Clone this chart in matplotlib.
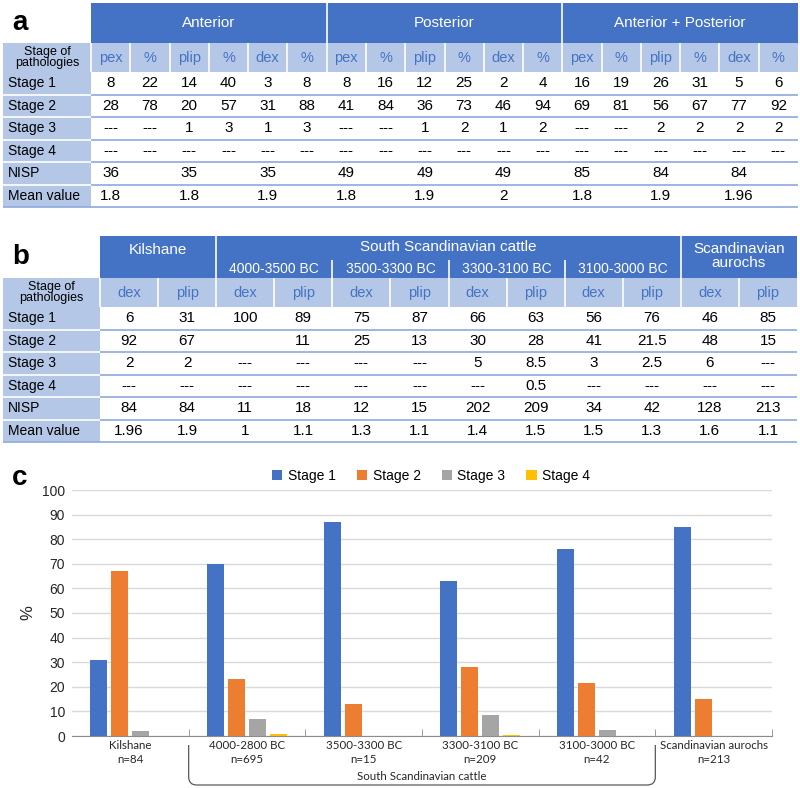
import matplotlib.pyplot as plt
from matplotlib.patches import Rectangle, PathPatch
from matplotlib.path import Path
from matplotlib.transforms import blended_transform_factory

plt.rcParams["font.family"] = ["Liberation Sans", "DejaVu Sans"]

# =========================
# DATA
# =========================

row_labels = ["Stage 1", "Stage 2", "Stage 3", "Stage 4", "NISP", "Mean value"]

# table a
a_groups = ["Anterior", "Posterior", "Anterior + Posterior"]
a_subcols = ["pex", "%", "plip", "%", "dex", "%"]
a_stage1 = ["8", "22", "14", "40", "3", "8", "8", "16", "12", "25", "2", "4", "16", "19", "26", "31", "5", "6"]
a_stage2 = ["28", "78", "20", "57", "31", "88", "41", "84", "36", "73", "46", "94", "69", "81", "56", "67", "77", "92"]
a_stage3 = ["---", "---", "1", "3", "1", "3", "---", "---", "1", "2", "1", "2", "---", "---", "2", "2", "2", "2"]
a_stage4 = ["---"] * 18
a_nisp = ["36", "", "35", "", "35", "", "49", "", "49", "", "49", "", "85", "", "84", "", "84", ""]
a_mean = ["1.8", "", "1.8", "", "1.9", "", "1.8", "", "1.9", "", "2", "", "1.8", "", "1.9", "", "1.96", ""]

# table b
b_groups = ["Kilshane", "South Scandinavian cattle", "Scandinavian\naurochs"]
b_periods = ["4000-3500 BC", "3500-3300 BC", "3300-3100 BC", "3100-3000 BC"]
b_subcols = ["dex", "plip"] * 6
b_stage1 = ["6", "31", "100", "89", "75", "87", "66", "63", "56", "76", "46", "85"]
b_stage2 = ["92", "67", "", "11", "25", "13", "30", "28", "41", "21.5", "48", "15"]
b_stage3 = ["2", "2", "---", "---", "---", "---", "5", "8.5", "3", "2.5", "6", "---"]
b_stage4 = ["---", "---", "---", "---", "---", "---", "---", "0.5", "---", "---", "---", "---"]
b_nisp = ["84", "84", "11", "18", "12", "15", "202", "209", "34", "42", "128", "213"]
b_mean = ["1.96", "1.9", "1", "1.1", "1.3", "1.1", "1.4", "1.5", "1.5", "1.3", "1.6", "1.1"]

# chart c
c_categories = ["Kilshane\nn=84", "4000-2800 BC\nn=695", "3500-3300 BC\nn=15",
                "3300-3100 BC\nn=209", "3100-3000 BC\nn=42", "Scandinavian aurochs\nn=213"]
c_stage1 = [31, 70, 87, 63, 76, 85]
c_stage2 = [67, 23, 13, 28, 21.5, 15]
c_stage3 = [2, 7, 0, 8.5, 2.5, 0]
c_stage4 = [0, 1, 0, 0.5, 0, 0]
c_series = ["Stage 1", "Stage 2", "Stage 3", "Stage 4"]
c_colors = ["#4472C4", "#ED7D31", "#A5A5A5", "#FFC000"]

DARK = "#4472C4"
LIGHT = "#B4C7E7"
LINE = "#8EA9DB"
SUBTXT = "#4472C4"

FS_HEAD = 11
FS_PERIOD = 10
FS_SUB = 10.5
FS_CELL = 11
FS_ROW = 10
FS_CORNER = 9

# =========================
# FIGURE / CANVAS
# =========================

W, H = 800, 788
fig = plt.figure(figsize=(8, 7.88), dpi=100)
canvas = fig.add_axes([0, 0, 1, 1])
canvas.set_xlim(0, W)
canvas.set_ylim(H, 0)
canvas.axis("off")


def rect(x0, y0, x1, y1, color):
    canvas.add_patch(Rectangle((x0, y0), x1 - x0, y1 - y0, facecolor=color,
                               edgecolor="none", zorder=1))


def vline(x, y0, y1, color="white", lw=1.2):
    canvas.plot([x, x], [y0, y1], color=color, lw=lw, zorder=2, solid_capstyle="butt")


def hline(y, x0, x1, color=LINE, lw=1.2):
    canvas.plot([x0, x1], [y, y], color=color, lw=lw, zorder=2, solid_capstyle="butt")


def body_rows(rows, x_left, x_data, col_w, y_top, row_h, x_end):
    for r, (label, values) in enumerate(zip(row_labels, rows)):
        yc = y_top + (r + 0.5) * row_h
        canvas.text(x_left + 5, yc, label, fontsize=FS_ROW, ha="left", va="center")
        for c, v in enumerate(values):
            canvas.text(x_data + (c + 0.5) * col_w, yc, v, fontsize=FS_CELL,
                        ha="center", va="center")
        yb = y_top + (r + 1) * row_h
        hline(yb, x_data, x_end)
        hline(yb, x_left, x_data, color="white" if r < len(rows) - 1 else LINE)


# =========================
# TABLE a
# =========================

ax0, axl, axr = 3, 91, 798
a_top, a_head, a_sub = 3, 43, 72
a_rowh = 22.5
a_colw = (axr - axl) / 18

rect(axl, a_top, axr, a_head, DARK)
rect(ax0, a_head, axr, a_sub, LIGHT)
rect(ax0, a_sub, axl, a_sub + 6 * a_rowh, LIGHT)

for g, name in enumerate(a_groups):
    gx0 = axl + g * 6 * a_colw
    canvas.text(gx0 + 3 * a_colw, (a_top + a_head) / 2, name, color="white",
                fontsize=FS_HEAD, ha="center", va="center")
    if g > 0:
        vline(gx0, a_top, a_head)
for c in range(18):
    canvas.text(axl + (c + 0.5) * a_colw, (a_head + a_sub) / 2, a_subcols[c % 6],
                color=SUBTXT, fontsize=FS_SUB, ha="center", va="center")
    vline(axl + c * a_colw, a_head, a_sub)
canvas.text((ax0 + axl) / 2, (a_head + a_sub) / 2, "Stage of\npathologies",
            fontsize=FS_CORNER, ha="center", va="center", linespacing=0.95)
canvas.text(12, (a_top + a_head) / 2, "a", fontsize=20, fontweight="bold",
            ha="left", va="center")

body_rows([a_stage1, a_stage2, a_stage3, a_stage4, a_nisp, a_mean],
          ax0, axl, a_colw, a_sub, a_rowh, axr)

# =========================
# TABLE b
# =========================

bx0, bxl, bxr = 3, 100, 797
b_top, b_head, b_sub = 236, 278, 307
b_rowh = 22.5
b_colw = (bxr - bxl) / 12

rect(bxl, b_top, bxr, b_head, DARK)
rect(bx0, b_head, bxr, b_sub, LIGHT)
rect(bx0, b_sub, bxl, b_sub + 6 * b_rowh, LIGHT)

canvas.text(bxl + b_colw, 250, b_groups[0], color="white", fontsize=FS_HEAD,
            ha="center", va="center")
canvas.text(bxl + 6 * b_colw, 247, b_groups[1], color="white", fontsize=FS_HEAD,
            ha="center", va="center")
canvas.text(bxl + 11 * b_colw, 256, b_groups[2], color="white", fontsize=FS_HEAD,
            ha="center", va="center", linespacing=1.05)
vline(bxl + 2 * b_colw, b_top, b_head)
vline(bxl + 10 * b_colw, b_top, b_head)
for p, name in enumerate(b_periods):
    px0 = bxl + (2 + 2 * p) * b_colw
    canvas.text(px0 + b_colw, 269, name, color="white", fontsize=FS_PERIOD,
                ha="center", va="center")
    if p > 0:
        vline(px0, 260, b_head)
for c in range(12):
    canvas.text(bxl + (c + 0.5) * b_colw, (b_head + b_sub) / 2, b_subcols[c],
                color=SUBTXT, fontsize=FS_SUB, ha="center", va="center")
    vline(bxl + c * b_colw, b_head, b_sub)
canvas.text((bx0 + bxl) / 2, (b_head + b_sub) / 2, "Stage of\npathologies",
            fontsize=FS_CORNER, ha="center", va="center", linespacing=0.95)
canvas.text(12, 257, "b", fontsize=20, fontweight="bold", ha="left", va="center")

body_rows([b_stage1, b_stage2, b_stage3, b_stage4, b_nisp, b_mean],
          bx0, bxl, b_colw, b_sub, b_rowh, bxr)

# =========================
# CHART c
# =========================

c_left, c_right, c_top, c_bot = 72, 772, 490, 736
ax = fig.add_axes([c_left / W, 1 - c_bot / H, (c_right - c_left) / W, (c_bot - c_top) / H])

slot = 0.18
bar_w = 0.146
centers = [i + 0.5 for i in range(len(c_categories))]
for k, (name, vals, col) in enumerate(zip(c_series, [c_stage1, c_stage2, c_stage3, c_stage4], c_colors)):
    xs = [c + (k - 1.5) * slot for c in centers]
    ax.bar(xs, vals, width=bar_w, color=col, label=name, zorder=3)

ax.set_xlim(0, len(c_categories))
ax.set_ylim(0, 100)
ax.set_yticks(range(0, 101, 10))
ax.yaxis.grid(True, color="#D9D9D9", lw=1)
ax.set_axisbelow(True)
for s in ["top", "right", "left"]:
    ax.spines[s].set_visible(False)
ax.spines["bottom"].set_color("#8C8C8C")
ax.tick_params(axis="y", length=0, labelsize=10, labelcolor="#262626", pad=5)
ax.set_xticks(centers)
ax.set_xticklabels(c_categories, fontsize=8.3, family=["Lato", "DejaVu Sans"],
                   color="#262626", linespacing=1.35)
ax.tick_params(axis="x", length=0, pad=3)
ax.set_xticks(range(1, len(c_categories) + 1), minor=True)
ax.tick_params(axis="x", which="minor", direction="in", length=5, color="#8C8C8C")
ax.set_ylabel("%", fontsize=12, color="#262626")
ax.yaxis.set_label_coords((35 - c_left) / (c_right - c_left), 0.5)

ax.legend(loc="lower center", bbox_to_anchor=(0.513, 1.0), ncol=4, frameon=False,
          fontsize=10, handlelength=0.75, handleheight=0.75, handletextpad=0.4,
          columnspacing=1.5, borderaxespad=0.1)

canvas.text(12, 478, "c", fontsize=20, fontweight="bold", ha="left", va="center")

# bracket under the South Scandinavian cattle groups
tr = blended_transform_factory(ax.transData, canvas.transData)
bx_a, bx_b = 1.0, 5.0
y_a, y_b, rx, ry = 745, 785, 0.07, 8
verts = [(bx_a, y_a), (bx_a, y_b - ry), (bx_a, y_b), (bx_a + rx, y_b),
         (bx_b - rx, y_b), (bx_b, y_b), (bx_b, y_b - ry), (bx_b, y_a)]
codes = [Path.MOVETO, Path.LINETO, Path.CURVE3, Path.CURVE3,
         Path.LINETO, Path.CURVE3, Path.CURVE3, Path.LINETO]
canvas.add_patch(PathPatch(Path(verts, codes), transform=tr, facecolor="none",
                           edgecolor="#595959", lw=0.9, clip_on=False))
canvas.text(3.0, 777, "South Scandinavian cattle", transform=tr, fontsize=8.3,
            family=["Lato", "DejaVu Sans"], color="#262626", ha="center", va="center")

fig.savefig("out.png", dpi=100)
